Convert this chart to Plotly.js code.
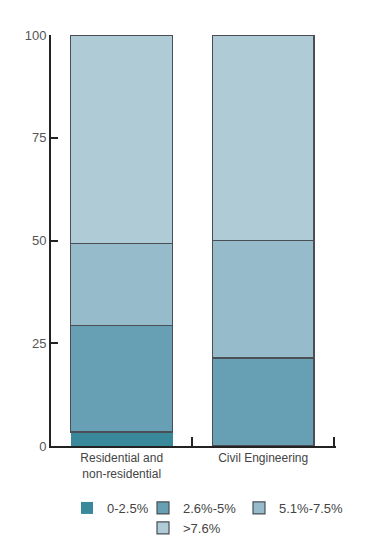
<!DOCTYPE html>
<html>
<head>
<meta charset="utf-8">
<script src="https://cdn.plot.ly/plotly-3.0.1.min.js"></script>
<style>html,body{margin:0;padding:0;background:#fff;}#chart{width:366px;height:553px;}</style>
</head>
<body>
<div id="chart"></div>
<script>
const categories = ["Residential and<br>non-residential", "Civil Engineering"];
const seriesNames = ["0-2.5%", "2.6%-5%", "5.1%-7.5%", ">7.6%"];
const s1 = [3.4, 0];
const s2 = [26.0, 21.4];
const s3 = [19.8, 28.6];
const s4 = [50.8, 50.0];
const yTicks = [0, 25, 50, 75, 100];

const colors = ["#3a899a", "#67a0b4", "#96bccb", "#aecbd6"];
const values = [s1, s2, s3, s4];
const legendOf = ["legend", "legend4", "legend3", "legend2"];

const traces = values.map((v, i) => ({
  type: "bar",
  x: categories,
  y: v,
  name: seriesNames[i],
  legend: legendOf[i],
  marker: {
    color: colors[i],
    line: { color: i === 0 ? colors[0] : "#4a4f55", width: i === 0 ? 0 : 1.2 }
  },
  width: 0.72,
  hoverinfo: "none"
}));

const legendFont = { size: 13, color: "#444", family: "Liberation Sans, Arial, sans-serif" };
const legendBase = {
  orientation: "h", traceorder: "normal",
  xref: "container", yref: "container",
  xanchor: "left", yanchor: "top",
  bgcolor: "rgba(0,0,0,0)",
  font: legendFont, itemwidth: 30
};

const layout = {
  width: 366, height: 553,
  margin: { l: 51, r: 30, t: 35, b: 107, autoexpand: false },
  barmode: "stack",
  paper_bgcolor: "#fff", plot_bgcolor: "#fff",
  font: { family: "Liberation Sans, Arial, sans-serif", color: "#555", size: 13 },
  showlegend: true,
  xaxis: {
    type: "category",
    range: [-0.5, 1.515],
    showline: true, linecolor: "#222", linewidth: 2,
    ticks: "inside", tickson: "boundaries", ticklen: 9, tickwidth: 2, tickcolor: "#222",
    showgrid: false, zeroline: false,
    tickfont: { size: 12, color: "#444" }
  },
  yaxis: {
    range: [0, 100],
    tickvals: yTicks,
    ticktext: yTicks.map(String),
    showline: true, linecolor: "#222", linewidth: 2,
    ticks: "inside", ticklen: 7, tickwidth: 2, tickcolor: "#222",
    showgrid: false, zeroline: false,
    tickfont: { size: 13, color: "#555" }
  },
  legend: Object.assign({}, legendBase, { x: 67 / 366, y: 1 - 493 / 553 }),
  legend4: Object.assign({}, legendBase, { x: 143 / 366, y: 1 - 493 / 553 }),
  legend3: Object.assign({}, legendBase, { x: 239 / 366, y: 1 - 493 / 553 }),
  legend2: Object.assign({}, legendBase, { x: 143 / 366, y: 1 - 513 / 553 })
};

Plotly.newPlot("chart", traces, layout, { staticPlot: true, displayModeBar: false });
</script>
</body>
</html>
